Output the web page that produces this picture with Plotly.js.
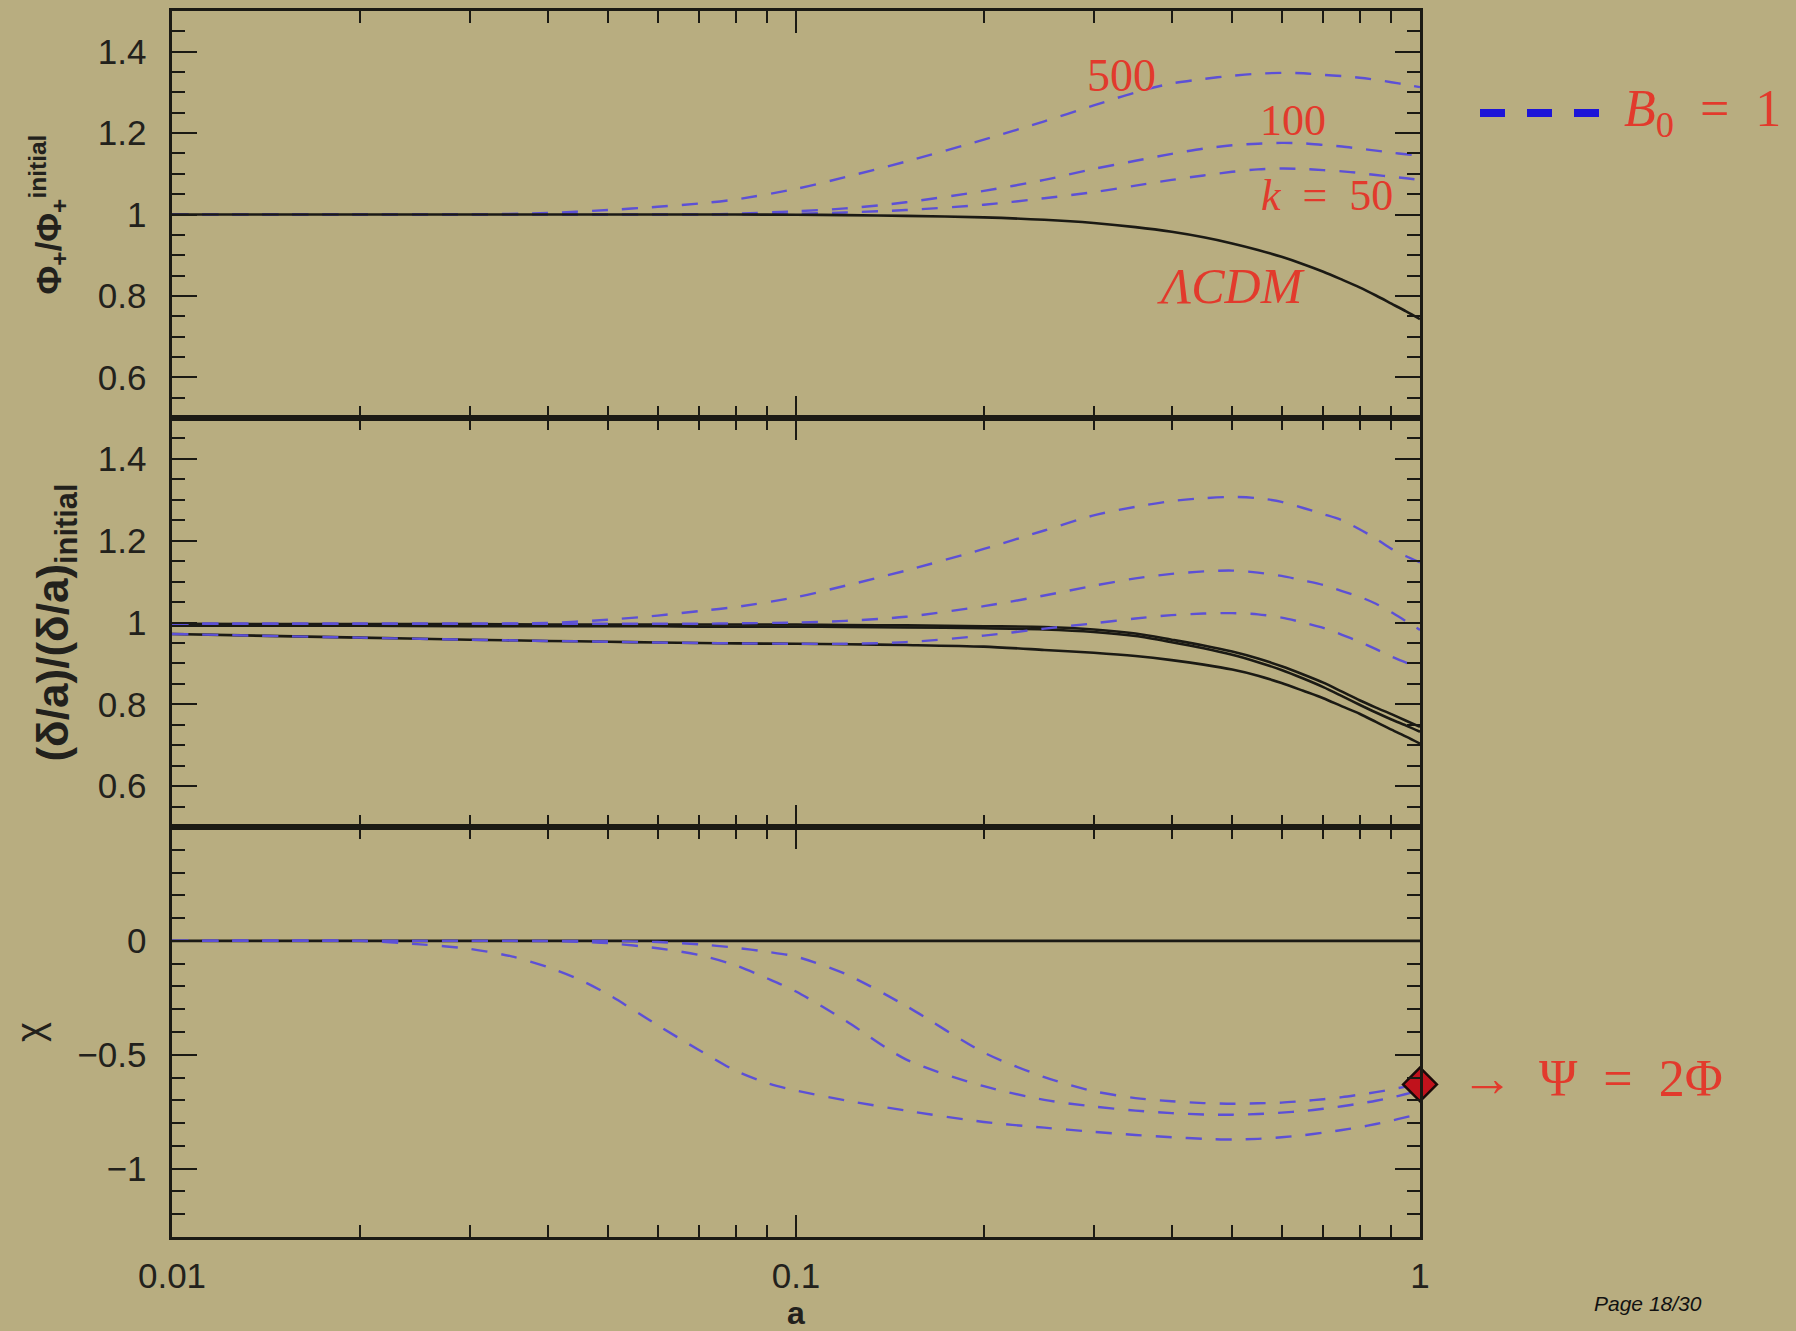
<!DOCTYPE html>
<html>
<head>
<meta charset="utf-8">
<script src="https://cdn.plot.ly/plotly-3.0.1.min.js"></script>
<style>
html,body{margin:0;padding:0;background:#b8ad80;}
#chart{width:1796px;height:1331px;}
</style>
</head>
<body>
<div id="chart"></div>
<script>
// ---------- data ----------
const aGrid = [0.01, 0.02, 0.03, 0.04, 0.05, 0.06, 0.07, 0.08, 0.1, 0.12, 0.15, 0.2, 0.25, 0.3, 0.35, 0.4, 0.45, 0.5, 0.55, 0.6, 0.65, 0.7, 0.75, 0.8, 0.85, 0.9, 0.95, 1.0];

// top panel: Phi_+ / Phi_+^initial
const phiLCDM = [1,1,1,1,1,1,1,1,0.9995,0.9985,0.9967,0.993,0.987,0.979,0.969,0.9575,0.944,0.929,0.913,0.896,0.878,0.8595,0.840,0.821,0.801,0.781,0.762,0.743];
const phiK50  = [1,1,1,1,1,1,1,1,1.002,1.005,1.011,1.024,1.04,1.055,1.071,1.085,1.096,1.105,1.111,1.113,1.112,1.109,1.106,1.102,1.097,1.093,1.089,1.085];
const phiK100 = [1,1,1,1,1,1,1,1.002,1.008,1.015,1.03,1.058,1.085,1.112,1.132,1.149,1.162,1.17,1.174,1.176,1.175,1.171,1.167,1.162,1.157,1.152,1.148,1.145];
const phiK500 = [1,1,1,1.004,1.011,1.019,1.027,1.037,1.063,1.092,1.13,1.184,1.229,1.268,1.30,1.322,1.333,1.341,1.346,1.348,1.347,1.343,1.34,1.336,1.331,1.325,1.319,1.313];

// middle panel: (delta/a)/(delta/a)_initial
const deltaL1   = [0.997,0.996,0.996,0.995,0.995,0.995,0.995,0.995,0.995,0.994,0.993,0.991,0.989,0.983,0.973,0.958,0.944,0.929,0.912,0.893,0.873,0.853,0.831,0.81,0.792,0.776,0.76,0.745];
const deltaL2   = [0.992,0.992,0.991,0.991,0.991,0.991,0.99,0.99,0.99,0.989,0.988,0.986,0.983,0.977,0.967,0.952,0.937,0.921,0.903,0.884,0.863,0.842,0.82,0.799,0.78,0.763,0.748,0.733];
const deltaL3   = [0.972,0.963,0.958,0.955,0.953,0.951,0.95,0.949,0.948,0.947,0.945,0.941,0.933,0.926,0.918,0.908,0.897,0.885,0.87,0.852,0.833,0.815,0.795,0.777,0.757,0.738,0.721,0.704];
const deltaK50  = [0.972,0.963,0.958,0.955,0.953,0.951,0.95,0.949,0.948,0.948,0.952,0.968,0.985,0.998,1.01,1.018,1.022,1.023,1.02,1.012,1.0,0.987,0.97,0.953,0.935,0.917,0.902,0.888];
const deltaK100 = [0.997,0.997,0.997,0.997,0.997,0.997,0.997,0.998,1.0,1.004,1.014,1.04,1.066,1.09,1.108,1.119,1.125,1.127,1.122,1.114,1.103,1.092,1.077,1.063,1.046,1.025,1.003,0.982];
const deltaK500 = [0.997,0.997,0.997,0.999,1.007,1.017,1.028,1.038,1.062,1.09,1.127,1.18,1.225,1.262,1.283,1.297,1.304,1.307,1.304,1.295,1.28,1.265,1.25,1.228,1.205,1.18,1.162,1.147];

// bottom panel: chi
const aChi = [0.01, 0.02, 0.025, 0.03, 0.035, 0.04, 0.045, 0.05, 0.06, 0.07, 0.08, 0.09, 0.1, 0.12, 0.15, 0.2, 0.25, 0.3, 0.35, 0.4, 0.45, 0.5, 0.55, 0.6, 0.65, 0.7, 0.75, 0.8, 0.85, 0.9, 0.95, 1.0];
const chiLCDM = [0,0,0,0,0,0,0,0,0,0,0,0,0,0,0,0,0,0,0,0,0,0,0,0,0,0,0,0,0,0,0,0];
const chiK500 = [0, 0, -0.015, -0.035, -0.068, -0.115, -0.17, -0.235, -0.37, -0.48, -0.57, -0.625, -0.657, -0.70, -0.745, -0.795, -0.82, -0.838, -0.852, -0.862, -0.869, -0.872, -0.869, -0.862, -0.853, -0.842, -0.83, -0.818, -0.804, -0.789, -0.774, -0.76];
const chiK100 = [0, 0, 0, 0, 0, -0.001, -0.004, -0.01, -0.032, -0.062, -0.107, -0.165, -0.222, -0.35, -0.52, -0.638, -0.698, -0.727, -0.745, -0.756, -0.762, -0.763, -0.76, -0.754, -0.747, -0.737, -0.726, -0.714, -0.702, -0.688, -0.672, -0.655];
const chiK50  = [0, 0, 0, 0, 0, 0, 0, 0, -0.005, -0.015, -0.03, -0.048, -0.069, -0.145, -0.285, -0.49, -0.598, -0.66, -0.69, -0.704, -0.712, -0.715, -0.713, -0.71, -0.703, -0.695, -0.686, -0.675, -0.664, -0.652, -0.64, -0.63];

// Psi = 2 Phi limit point
const psiA = [1];
const psiChi = [-0.63];

// ticks
const xTickVals = [0.01, 0.1, 1];
const xTickText = ['0.01', '0.1', '1'];
const xMinorVals = [0.02,0.03,0.04,0.05,0.06,0.07,0.08,0.09,0.2,0.3,0.4,0.5,0.6,0.7,0.8,0.9];
const ratioTickVals = [0.6, 0.8, 1, 1.2, 1.4];
const ratioTickText = ['0.6', '0.8', '1', '1.2', '1.4'];
const ratioMinorVals = [0.55,0.65,0.7,0.75,0.85,0.9,0.95,1.05,1.1,1.15,1.25,1.3,1.35,1.45];
const chiTickVals = [-1, -0.5, 0];
const chiTickText = ['\u22121', '\u22120.5', '0'];
const chiMinorVals = [-1.2,-1.1,-0.9,-0.8,-0.7,-0.6,-0.4,-0.3,-0.2,-0.1,0.1,0.2,0.3,0.4];

// ---------- styles ----------
const BG = '#b8ad80';
const INK = '#1b1a14';
const BLUE = 'rgb(92,80,214)';
const RED = '#e23a2c';
const blackLine = {color: INK, width: 2.6};
const blueLine = {color: BLUE, width: 2.4, dash: '16px,14px'};

function tr(x, y, xa, ya, line) {
  return {x: x, y: y, xaxis: xa, yaxis: ya, type: 'scatter', mode: 'lines',
          line: Object.assign({shape: 'spline', smoothing: 0.8}, line), showlegend: false, hoverinfo: 'skip'};
}

const data = [
  // top
  tr(aGrid, phiK500, 'x3', 'y3', blueLine),
  tr(aGrid, phiK100, 'x3', 'y3', blueLine),
  tr(aGrid, phiK50,  'x3', 'y3', blueLine),
  tr(aGrid, phiLCDM, 'x3', 'y3', blackLine),
  // middle
  tr(aGrid, deltaL1, 'x2', 'y2', blackLine),
  tr(aGrid, deltaL2, 'x2', 'y2', blackLine),
  tr(aGrid, deltaL3, 'x2', 'y2', blackLine),
  tr(aGrid, deltaK500, 'x2', 'y2', blueLine),
  tr(aGrid, deltaK100, 'x2', 'y2', blueLine),
  tr(aGrid, deltaK50,  'x2', 'y2', blueLine),
  // bottom
  tr(aChi, chiLCDM, 'x', 'y', blackLine),
  tr(aChi, chiK500, 'x', 'y', blueLine),
  tr(aChi, chiK100, 'x', 'y', blueLine),
  tr(aChi, chiK50,  'x', 'y', blueLine),
  {x: psiA, y: psiChi, xaxis: 'x', yaxis: 'y', type: 'scatter', mode: 'markers', cliponaxis: false,
   marker: {symbol: 'diamond', size: 26, color: '#c0121c', line: {color: '#1a0a08', width: 2.5}},
   showlegend: false, hoverinfo: 'skip'}
];

const SANS = 'Liberation Sans, Arial, sans-serif';
const tickFont = {family: SANS, size: 35, color: '#22211c'};

function xAxis(anchor, showLabels) {
  return {
    type: 'log', range: [-2, 0], anchor: anchor,
    showline: true, linecolor: INK, linewidth: 2.6, mirror: 'ticks',
    ticks: 'inside', ticklen: 22, tickwidth: 2, tickcolor: INK,
    tickmode: 'array', tickvals: xTickVals, ticktext: xTickText,
    minor: {tickmode: 'array', tickvals: xMinorVals, ticks: 'inside', ticklen: 12, tickwidth: 2, tickcolor: INK, showgrid: false},
    showticklabels: showLabels, tickfont: tickFont, ticklabelstandoff: 6,
    showgrid: false, zeroline: false, fixedrange: true
  };
}
function yAxis(anchor, dom, range, tv, tt, mv, title, tfont, standoff) {
  return {
    domain: dom, range: range, anchor: anchor,
    showline: true, linecolor: INK, linewidth: 2.6, mirror: 'ticks',
    ticks: 'inside', ticklen: 25, tickwidth: 2, tickcolor: INK,
    tickmode: 'array', tickvals: tv, ticktext: tt,
    minor: {tickmode: 'array', tickvals: mv, ticks: 'inside', ticklen: 13, tickwidth: 2, tickcolor: INK, showgrid: false},
    tickfont: tickFont, ticklabelstandoff: 16,
    showgrid: false, zeroline: false, fixedrange: true,
    title: {text: title, font: tfont, standoff: standoff}
  };
}

// helpers for pixel -> paper positions (plot area 172..1420 x 11..1237)
const px = v => (v - 172) / 1248;
const py = v => (1237 - v) / 1226;
const SERIF = 'Liberation Serif, Times New Roman, serif';
const EN = '\u2002';

function note(x, y, text, size, extra) {
  return Object.assign({xref: 'paper', yref: 'paper', x: px(x), y: py(y), text: text, showarrow: false,
    xanchor: 'center', yanchor: 'middle', font: {family: SERIF, size: size, color: RED}}, extra || {});
}

const layout = {
  width: 1796, height: 1331,
  margin: {l: 172, r: 376, t: 11, b: 94, pad: 0},
  paper_bgcolor: BG, plot_bgcolor: BG,
  showlegend: false,
  xaxis:  Object.assign(xAxis('y', true), {title: {text: 'a', font: {family: SANS, size: 32, weight: 700, color: '#22211c'}, standoff: 4}}),
  xaxis2: xAxis('y2', false),
  xaxis3: xAxis('y3', false),
  yaxis:  yAxis('x',  [0, 0.3344], [-1.3, 0.5], chiTickVals, chiTickText, chiMinorVals,
                'χ', {family: SANS, size: 38, color: '#22211c'}, 22),
  yaxis2: yAxis('x2', [0.3344, 0.668], [0.5, 1.5], ratioTickVals, ratioTickText, ratioMinorVals,
                '(δ/a)/(δ/a)<sub>initial</sub>', {family: SANS, size: 44, weight: 700, color: '#22211c'}, 16),
  yaxis3: yAxis('x3', [0.668, 1], [0.5, 1.5], ratioTickVals, ratioTickText, ratioMinorVals,
                'Φ<sub>+</sub>/Φ<sub>+</sub><sup>initial</sup>', {family: SANS, size: 35, weight: 700, color: '#22211c'}, 26),
  shapes: [
    {type: 'line', xref: 'paper', yref: 'paper', x0: px(1480), x1: px(1600), y0: py(113), y1: py(113),
     line: {color: '#1c14d8', width: 8, dash: '25px,22px'}}
  ],
  annotations: [
    note(1121, 75, '500', 46),
    note(1293, 121, '100', 44),
    note(1327, 195, '<i>k</i>' + EN + '=' + EN + '50', 44),
    note(1231, 286, '<i>ΛCDM</i>', 50),
    note(1702, 113, '<i>B</i><sub>0</sub>' + EN + '=' + EN + '1', 52),
    note(1592, 1078, '→' + EN + 'Ψ' + EN + '=' + EN + '2Φ', 52),
    {xref: 'paper', yref: 'paper', x: px(1648), y: py(1303), xanchor: 'center', yanchor: 'middle',
     text: '<i>Page 18/30</i>', showarrow: false,
     font: {family: SANS, size: 21, color: '#111'}}
  ]
};

Plotly.newPlot('chart', data, layout, {displayModeBar: false, staticPlot: true});
</script>
</body>
</html>
